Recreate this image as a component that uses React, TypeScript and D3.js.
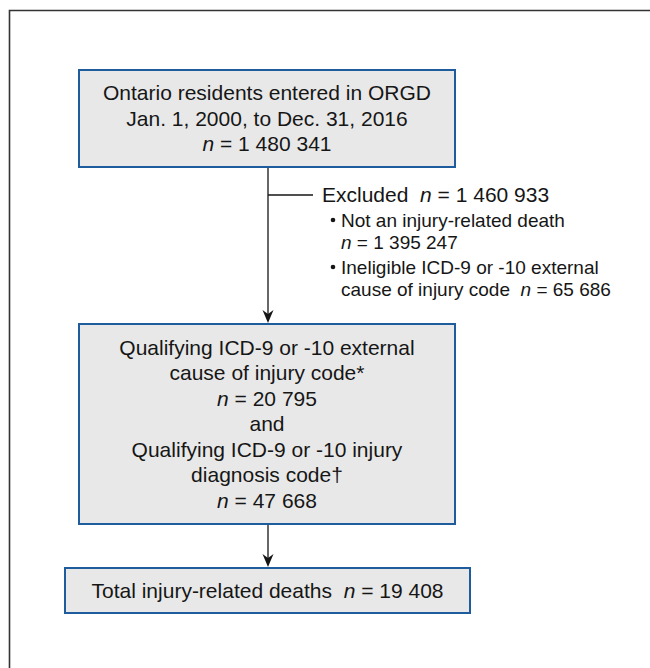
import * as d3 from "d3";
import { useEffect, useRef } from "react";

// counts
const cohortCount = 1480341;
const excludedTotal = 1460933;
const notInjuryCount = 1395247;
const ineligibleCount = 65686;
const externalCauseCount = 20795;
const injuryDiagnosisCount = 47668;
const totalDeathsCount = 19408;

const fmt = (v: number) => d3.format(",")(v).replace(/,/g, " ");

const cohortLines = [
  "Ontario residents entered in ORGD",
  "Jan. 1, 2000, to Dec. 31, 2016",
  `n = ${fmt(cohortCount)}`,
];
const excludedHeader = `Excluded  n = ${fmt(excludedTotal)}`;
const excludedBullets = [
  ["Not an injury-related death", `n = ${fmt(notInjuryCount)}`],
  ["Ineligible ICD-9 or -10 external", `cause of injury code  n = ${fmt(ineligibleCount)}`],
];
const qualifyingLines = [
  "Qualifying ICD-9 or -10 external",
  "cause of injury code*",
  `n = ${fmt(externalCauseCount)}`,
  "and",
  "Qualifying ICD-9 or -10 injury",
  "diagnosis code†",
  `n = ${fmt(injuryDiagnosisCount)}`,
];
const totalLines = [`Total injury-related deaths  n = ${fmt(totalDeathsCount)}`];

const W = 650;
const H = 668;
const FONT = "'Liberation Sans', Arial, Helvetica, sans-serif";
const BOX_FILL = "#e8e8e8";
const BOX_STROKE = "#1f5c9e";
const INK = "#161616";

export default function App() {
  const ref = useRef<SVGSVGElement>(null);

  useEffect(() => {
    draw();
  });

  // writes a line, italicising the standalone "n"; keeps double spaces
  function writeLine(sel: any, line: string) {
    const parts = line.replace(/  /g, " \u00A0").split(/(?<![A-Za-z])(n)(?![A-Za-z])/);
    parts.forEach((p) => {
      if (p === "") return;
      sel
        .append("tspan")
        .attr("font-style", p === "n" ? "italic" : "normal")
        .text(p);
    });
  }

  function draw() {
    const svg = d3.select(ref.current);
    svg.selectAll("*").remove();

    const g = svg.append("g").attr("font-family", FONT).attr("fill", INK);

    // outer frame (cut off at right and bottom)
    g.append("path")
      .attr("d", `M9.5,${H} L9.5,10.5 L${W},10.5`)
      .attr("fill", "none")
      .attr("stroke", "#333")
      .attr("stroke-width", 1.6);

    const cx = 268;
    const lineH = 25.5;

    const boxes = [
      { lines: cohortLines, x0: 79, x1: 455, y0: 70, y1: 167 },
      { lines: qualifyingLines, x0: 79, x1: 455, y0: 324, y1: 524 },
      { lines: totalLines, x0: 65, x1: 470, y0: 568, y1: 613 },
    ];

    // connectors
    const arrow = (x: number, yA: number, yB: number) => {
      g.append("line")
        .attr("x1", x)
        .attr("x2", x)
        .attr("y1", yA)
        .attr("y2", yB - 8)
        .attr("stroke", INK)
        .attr("stroke-width", 1.3);
      g.append("path")
        .attr("d", `M${x - 5.5},${yB - 14} L${x},${yB - 10} L${x + 5.5},${yB - 14} L${x},${yB - 1} Z`)
        .attr("fill", INK);
    };
    arrow(cx, boxes[0].y1, boxes[1].y0);
    arrow(cx, boxes[1].y1, boxes[2].y0);

    // excluded branch
    const exY = 195;
    g.append("line")
      .attr("x1", cx)
      .attr("x2", 313)
      .attr("y1", exY)
      .attr("y2", exY)
      .attr("stroke", INK)
      .attr("stroke-width", 1.3);

    const hdr = g
      .append("text")
      .attr("x", 322)
      .attr("y", exY)
      .attr("dy", "0.35em")
      .attr("font-size", 21);
    writeLine(hdr, excludedHeader);

    let by = 220;
    excludedBullets.forEach((b) => {
      g.append("circle")
        .attr("cx", 333)
        .attr("cy", by)
        .attr("r", 2.3);
      b.forEach((line, i) => {
        const t = g
          .append("text")
          .attr("x", 341)
          .attr("y", by + i * 22)
          .attr("dy", "0.35em")
          .attr("font-size", 19);
        writeLine(t, line);
      });
      by += 47;
    });

    // boxes
    boxes.forEach((b) => {
      g.append("rect")
        .attr("x", b.x0)
        .attr("y", b.y0)
        .attr("width", b.x1 - b.x0)
        .attr("height", b.y1 - b.y0)
        .attr("fill", BOX_FILL)
        .attr("stroke", BOX_STROKE)
        .attr("stroke-width", 2);
      const mid = (b.y0 + b.y1) / 2;
      const start = mid - ((b.lines.length - 1) * lineH) / 2;
      b.lines.forEach((line, i) => {
        const t = g
          .append("text")
          .attr("x", (b.x0 + b.x1) / 2)
          .attr("y", start + i * lineH)
          .attr("dy", "0.35em")
          .attr("text-anchor", "middle")
          .attr("font-size", 21);
        writeLine(t, line);
      });
    });
  }

  return (
    <svg
      ref={ref}
      width={W}
      height={H}
      style={{ position: "absolute", left: 0, top: 0, background: "#fff" }}
    ></svg>
  );
}
